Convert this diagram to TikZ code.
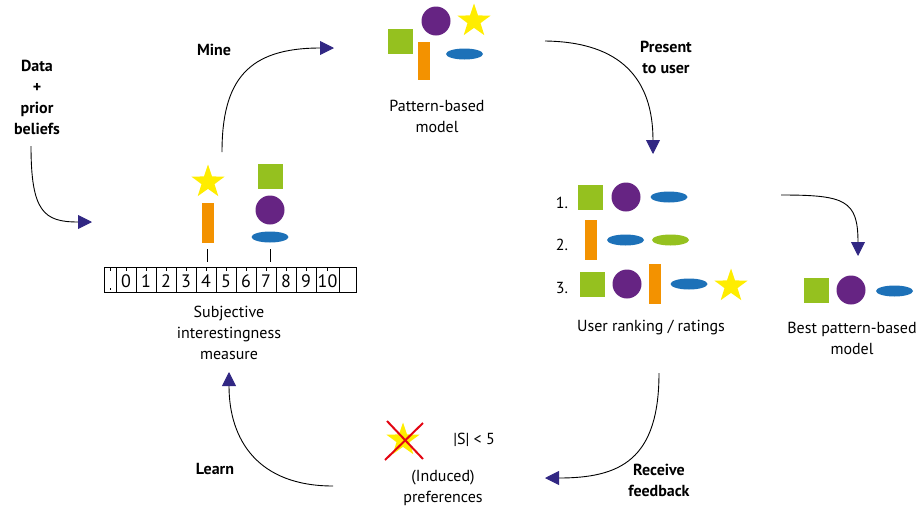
\documentclass[tikz,border=0pt]{standalone}
\usepackage{fontspec}
\setmainfont{PT Sans}
\usetikzlibrary{arrows.meta,shapes.geometric}
\definecolor{cgreen}{HTML}{95C11F}
\definecolor{cpurple}{HTML}{662483}
\definecolor{corange}{HTML}{F39200}
\definecolor{cblue}{HTML}{1D71B8}
\definecolor{cyellow}{HTML}{FFED00}
\definecolor{cred}{HTML}{E30613}
\definecolor{carrow}{HTML}{312783}
\tikzset{
  sq/.style={draw=none,fill=cgreen,minimum size=25pt,inner sep=0pt},
  bar/.style={draw=none,fill=corange,minimum width=12pt,minimum height=40pt,inner sep=0pt},
  disc/.style={circle,draw=none,fill=cpurple,minimum size=29pt,inner sep=0pt},
  ell/.style={ellipse,draw=none,fill=cblue,minimum width=37pt,minimum height=11pt,inner sep=0pt},
  gell/.style={ell,fill=cgreen},
  starshape/.style={star,star points=5,star point ratio=2.55,draw=none,fill=cyellow,minimum size=35pt,inner sep=0pt},
  txt/.style={font=\fontsize{16}{21}\selectfont,align=center,inner sep=0pt},
  digit/.style={font=\fontsize{18}{21}\selectfont,inner sep=0pt},
  btxt/.style={txt,font=\fontsize{16}{21}\selectfont\bfseries},
  flow/.style={line width=0.9pt,color=black,
    arrows={-{Triangle[length=14pt,width=14pt,fill=carrow,color=carrow]}}},
  rul/.style={line width=0.7pt}
}
\begin{document}
\begin{tikzpicture}[x=1pt,y=-1pt]
\useasboundingbox (0,0) rectangle (924,512);

% ---- Labels
\node[btxt] (data) at (37,97) {Data\\+\\prior\\beliefs};
\node[btxt] (mine) at (214,50) {Mine};
\node[btxt] (present) at (666,57) {Present\\to user};
\node[btxt] (receive) at (659,480) {Receive\\feedback};
\node[btxt] (learn) at (215,469) {Learn};

% ---- Top pattern-based model
\node[sq] (tsq) at (400.5,41.5) {};
\node[bar,minimum height=38pt] (tbar) at (424,61) {};
\node[disc] (tdisc) at (436,21) {};
\node[starshape] (tstar) at (474,21) {};
\node[ell] (tell) at (464.5,54) {};
\node[txt] (tlabel) at (437,116) {Pattern-based\\model};

% ---- Ruler group
\node[starshape] (rstar) at (208,182) {};
\node[bar] (rbar) at (208,223) {};
\node[sq] (rsq) at (270.5,176.5) {};
\node[disc] (rdisc) at (270,210) {};
\node[ell] (rell) at (270,237) {};

\coordinate (rtl) at (104,267);
\coordinate (rbr) at (356,292);
\draw[rul] (rtl) rectangle (rbr);
\foreach \d in {116,136,156,176,196,216,236,256,276,296,316,339}
  \draw[rul] (\d,267) -- (\d,292);
\foreach \c in {110,126,146,166,186,206,226,246,266,286,306,327.5}
  \draw[line width=0.5pt] (\c,267) -- (\c,271);
\draw[line width=0.5pt] (110,288) -- (110,290);
\foreach \n/\c in {0/126,1/146,2/166,3/186,4/206,5/226,6/246,7/266,8/286,9/306,10/327.5}
  \node[digit] (lab\n) at (\c,281) {\n};
\coordinate (p4a) at (207,249); \coordinate (p4b) at (207,262);
\coordinate (p7a) at (270,249); \coordinate (p7b) at (270,262);
\draw[rul] (p4a) -- (p4b);
\draw[rul] (p7a) -- (p7b);
\node[txt] (slabel) at (229,333) {Subjective\\interestingness\\measure};

% ---- Ranking
\node[txt] (r1) at (562,203) {1.};
\node[sq] (r1sq) at (590.5,197.5) {};
\node[disc] (r1disc) at (626,197) {};
\node[ell] (r1ell) at (669,197) {};

\node[txt] (r2) at (562,245) {2.};
\node[bar] (r2bar) at (591,240) {};
\node[ell] (r2ell) at (625.5,240) {};
\node[gell] (r2gell) at (670.5,240) {};

\node[txt] (r3) at (562,288) {3.};
\node[sq] (r3sq) at (592.5,284.5) {};
\node[disc] (r3disc) at (627,284) {};
\node[bar] (r3bar) at (655,283.5) {};
\node[ell] (r3ell) at (689,284) {};
\node[starshape] (r3star) at (731,286) {};
\node[txt] (rlabel) at (651,327) {User ranking / ratings};

% ---- Best model
\node[sq] (bsq) at (816.5,290.5) {};
\node[disc] (bdisc) at (851,290) {};
\node[ell] (bell) at (894.5,291) {};
\node[txt] (blabel) at (852,338) {Best pattern-based\\model};

% ---- Preferences
\node[starshape] (pstar) at (403,440) {};
\draw[cred,line width=2pt] (387,421) -- (423,459);
\draw[cred,line width=2pt] (423,423) -- (385,460);
\node[txt] (slt) at (474,440) {|S| < 5};
\node[txt] (plabel) at (443,488) {(Induced)\\preferences};

% ---- Connectors
\coordinate (a1s) at (31,146); \coordinate (a1e) at (92,222);
\draw[flow] (a1s) .. controls (31,212) and (44,222) .. (a1e);
\coordinate (a2s) at (222,152); \coordinate (a2e) at (334,48);
\draw[flow] (a2s) .. controls (222,80) and (248,48) .. (a2e);
\coordinate (a3s) at (545,41); \coordinate (a3e) at (653,154);
\draw[flow] (a3s) .. controls (622,42) and (653,80) .. (a3e);
\coordinate (a4s) at (781,195); \coordinate (a4e) at (858,256);
\draw[flow] (a4s) .. controls (845,195) and (858,200) .. (a4e);
\coordinate (a5s) at (659,373); \coordinate (a5e) at (545,478);
\draw[flow] (a5s) .. controls (659,460) and (620,478) .. (a5e);
\coordinate (a6s) at (333,486); \coordinate (a6e) at (229,372);
\draw[flow] (a6s) .. controls (258,486) and (229,440) .. (a6e);
\end{tikzpicture}
\end{document}
